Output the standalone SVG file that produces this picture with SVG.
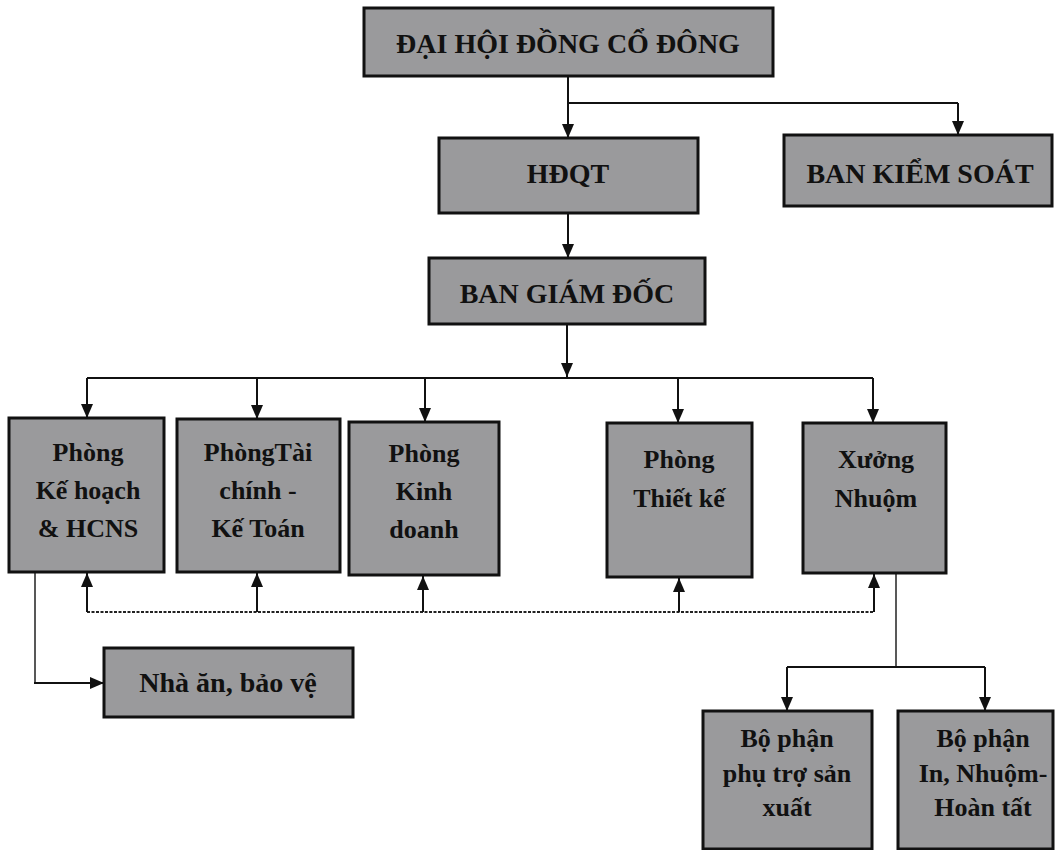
<svg xmlns="http://www.w3.org/2000/svg" width="1055" height="850" viewBox="0 0 1055 850">
<defs>
<marker id="ah" viewBox="0 0 14 12" refX="14" refY="6" markerWidth="14" markerHeight="12" markerUnits="userSpaceOnUse" orient="auto">
<path d="M0,0 L14,6 L0,12 Z" fill="#111"/>
</marker>
</defs>
<style>
.box{fill:#9a9a9c;stroke:#111;stroke-width:3}
.t{font-family:"Liberation Serif","Times New Roman",serif;font-weight:bold;fill:#111;text-anchor:middle}
.big{font-size:28px}
.mid{font-size:26px}
.ln{fill:none;stroke:#111;stroke-width:2}
.arr{fill:none;stroke:#111;stroke-width:2;marker-end:url(#ah)}
.thin{fill:none;stroke:#222;stroke-width:1.5}
.dash{fill:none;stroke:#222;stroke-width:2;stroke-dasharray:3 1.5}
</style>
<rect width="1055" height="850" fill="#fff"/>

<g id="connectors">
<line class="arr" x1="568" y1="76" x2="568" y2="138"/>
<polyline class="ln" points="568,103 958,103"/>
<line class="arr" x1="958" y1="103" x2="958" y2="135"/>
<line class="arr" x1="568" y1="213" x2="568" y2="258"/>
<line class="arr" x1="567" y1="324" x2="567" y2="377"/>
<polyline class="ln" points="87,378 873,378"/>
<line class="arr" x1="87" y1="378" x2="87" y2="418"/>
<line class="arr" x1="257" y1="378" x2="257" y2="419"/>
<line class="arr" x1="425" y1="378" x2="425" y2="422"/>
<line class="arr" x1="678" y1="378" x2="678" y2="423"/>
<line class="arr" x1="873" y1="378" x2="873" y2="423"/>
<polyline class="dash" points="87,612 874,612"/>
<line class="arr" x1="87" y1="612" x2="87" y2="573"/>
<line class="arr" x1="257" y1="612" x2="257" y2="573"/>
<line class="arr" x1="423" y1="612" x2="423" y2="576"/>
<line class="arr" x1="679" y1="612" x2="679" y2="578"/>
<line class="arr" x1="874" y1="612" x2="874" y2="574"/>
<polyline class="thin" points="35,572 35,683 80,683"/>
<line class="arr" x1="34" y1="683" x2="104" y2="683"/>
<line class="thin" x1="896" y1="573" x2="896" y2="667"/>
<polyline class="ln" points="787,667 985,667"/>
<line class="arr" x1="787" y1="667" x2="787" y2="711"/>
<line class="arr" x1="985" y1="667" x2="985" y2="711"/>
</g>

<g id="dhdcd">
<rect class="box" x="364" y="8" width="409" height="68"/>
<text class="t big" x="568" y="53">ĐẠI HỘI ĐỒNG CỔ ĐÔNG</text>
</g>
<g id="hdqt">
<rect class="box" x="439" y="138" width="259" height="75"/>
<text class="t big" x="568" y="183">HĐQT</text>
</g>
<g id="bks">
<rect class="box" x="784" y="135" width="268" height="71"/>
<text class="t big" x="920" y="183">BAN KIỂM SOÁT</text>
</g>
<g id="bgd">
<rect class="box" x="429" y="258" width="276" height="66"/>
<text class="t big" x="567" y="303">BAN GIÁM ĐỐC</text>
</g>
<g id="p-kehoach">
<rect class="box" x="9" y="418" width="155" height="154"/>
<text class="t mid" x="88" y="461">Phòng</text>
<text class="t mid" x="88" y="499">Kế hoạch</text>
<text class="t mid" x="88" y="537">&amp; HCNS</text>
</g>
<g id="p-taichinh">
<rect class="box" x="177" y="419" width="163" height="153"/>
<text class="t mid" x="258" y="461">PhòngTài</text>
<text class="t mid" x="258" y="499">chính -</text>
<text class="t mid" x="258" y="537">Kế Toán</text>
</g>
<g id="p-kinhdoanh">
<rect class="box" x="349" y="422" width="150" height="153"/>
<text class="t mid" x="424" y="462">Phòng</text>
<text class="t mid" x="424" y="500">Kinh</text>
<text class="t mid" x="424" y="538">doanh</text>
</g>
<g id="p-thietke">
<rect class="box" x="607" y="423" width="145" height="154"/>
<text class="t mid" x="679" y="468">Phòng</text>
<text class="t mid" x="679" y="507">Thiết kế</text>
</g>
<g id="x-nhuom">
<rect class="box" x="803" y="423" width="143" height="150"/>
<text class="t mid" x="876" y="468">Xưởng</text>
<text class="t mid" x="876" y="507">Nhuộm</text>
</g>
<g id="nha-an">
<rect class="box" x="104" y="648" width="249" height="69"/>
<text class="t big" x="228" y="692">Nhà ăn, bảo vệ</text>
</g>
<g id="bp-phutro">
<rect class="box" x="703" y="711" width="169" height="138"/>
<text class="t mid" x="787" y="747">Bộ phận</text>
<text class="t mid" x="787" y="782">phụ trợ sản</text>
<text class="t mid" x="787" y="816">xuất</text>
</g>
<g id="bp-in">
<rect class="box" x="898" y="711" width="155" height="138"/>
<text class="t mid" x="983" y="747">Bộ phận</text>
<text class="t mid" x="983" y="782">In, Nhuộm-</text>
<text class="t mid" x="983" y="816">Hoàn tất</text>
</g>
</svg>
